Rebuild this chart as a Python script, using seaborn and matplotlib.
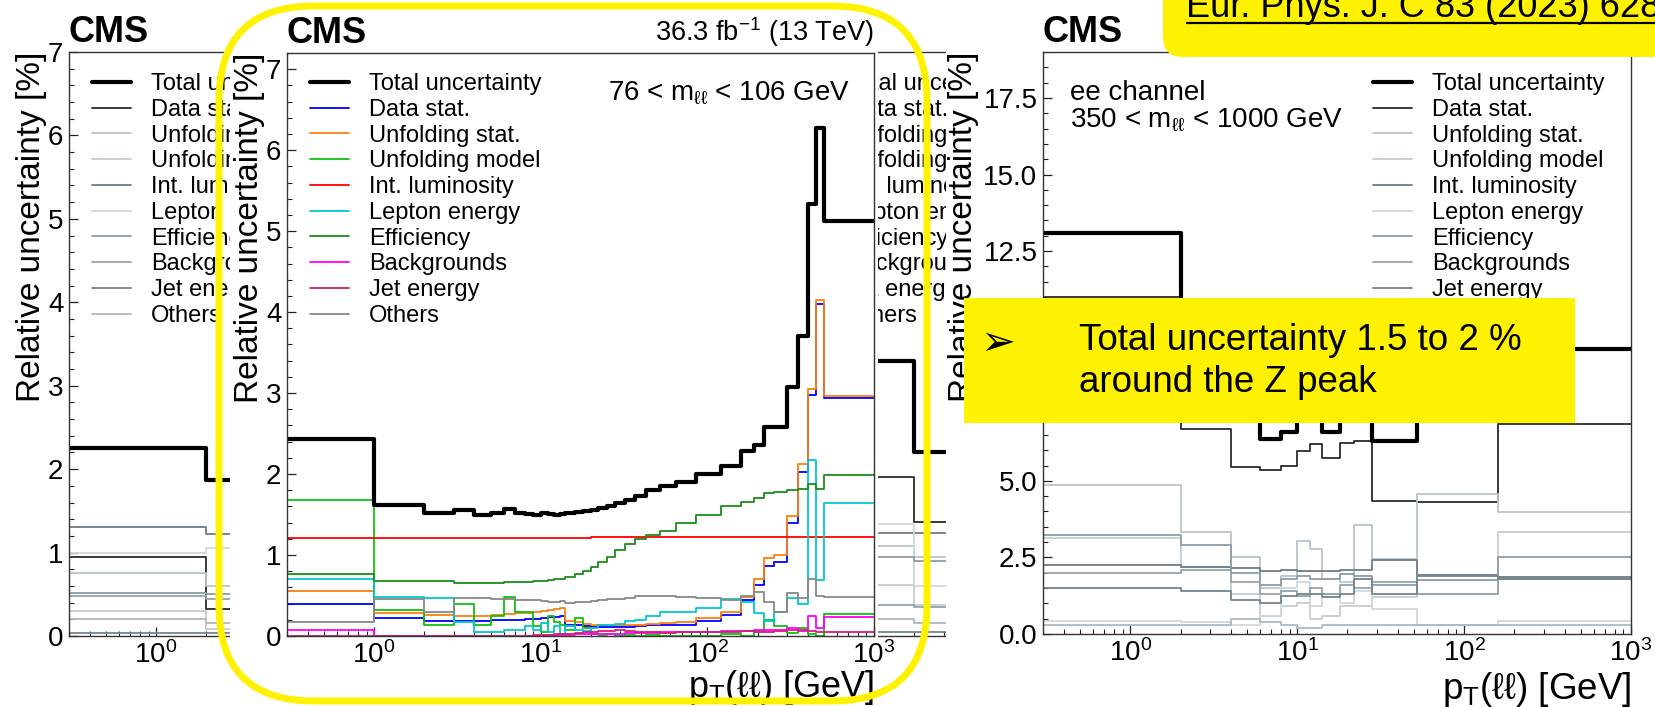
import numpy as np
import matplotlib
matplotlib.use("Agg")
import matplotlib.pyplot as plt
import seaborn as sns
from matplotlib.patches import Rectangle, FancyBboxPatch
from matplotlib.ticker import (LogLocator, MultipleLocator, NullFormatter,
                               LogFormatterMathtext, FormatStrFormatter)

W, H = 1656, 707

# ------------------------------------------------------------------ data
labels = ["Total uncertainty", "Data stat.", "Unfolding stat.", "Unfolding model",
          "Int. luminosity", "Lepton energy", "Efficiency", "Backgrounds",
          "Jet energy", "Others"]

# --- middle panel: 76 < m_ll < 106 GeV
mid_edges = [0.3, 1, 2, 3, 4, 5, 6, 7, 8, 9, 10, 11, 12, 13, 14, 16, 18, 20, 22, 25, 28,
             32, 37, 43, 52, 65, 85, 120, 160, 190, 220, 250, 300, 350, 400, 450, 500, 1000]
mid_total = [2.43, 1.62, 1.52, 1.55, 1.50, 1.52, 1.57, 1.52, 1.51, 1.50, 1.52, 1.51, 1.50, 1.51,
             1.52, 1.53, 1.54, 1.56, 1.58, 1.61, 1.64, 1.68, 1.73, 1.80, 1.85, 1.90, 2.00,
             2.10, 2.28, 2.36, 2.58, 2.58, 3.08, 3.70, 5.33, 6.27, 5.12]
mid_datastat = [0.39, 0.22, 0.19, 0.19, 0.19, 0.20, 0.20, 0.20, 0.21, 0.21, 0.22, 0.23, 0.24, 0.25,
                0.14, 0.13, 0.12, 0.11, 0.11, 0.11, 0.11, 0.11, 0.12, 0.13, 0.13, 0.14, 0.18,
                0.26, 0.44, 0.63, 0.87, 0.92, 1.40, 2.03, 2.98, 4.10, 2.94]
mid_unfstat = [0.55, 0.29, 0.26, 0.25, 0.25, 0.26, 0.27, 0.28, 0.29, 0.30, 0.31, 0.32, 0.33, 0.35,
               0.18, 0.17, 0.15, 0.14, 0.13, 0.13, 0.13, 0.13, 0.14, 0.15, 0.16, 0.17, 0.22,
               0.30, 0.48, 0.71, 0.96, 1.00, 1.48, 2.12, 3.05, 4.15, 2.97]
mid_unfmodel = [1.68, 0.32, 0.14, 0.39, 0.14, 0.25, 0.48, 0.30, 0.30, 0.12, 0.05, 0.25, 0.17, 0.13,
                0.08, 0.22, 0.10, 0.03, 0.01, 0.02, 0.00, 0.01, 0.00, 0.01, 0.00, 0.00, 0.00,
                0.02, 0.00, 0.06, 0.20, 0.12, 0.04, 0.10, 0.02, 0.00, 0.27]
mid_lumi = [1.21, 1.21, 1.21, 1.21, 1.21, 1.21, 1.21, 1.21, 1.21, 1.21, 1.21, 1.21, 1.21, 1.21,
            1.21, 1.21, 1.21, 1.22, 1.22, 1.22, 1.22, 1.22, 1.22, 1.22, 1.22, 1.22, 1.22,
            1.22, 1.22, 1.22, 1.22, 1.22, 1.22, 1.22, 1.22, 1.22, 1.22]
mid_lepton = [0.70, 0.48, 0.47, 0.17, 0.05, 0.05, 0.07, 0.07, 0.12, 0.08, 0.16, 0.05, 0.12, 0.03,
              0.12, 0.08, 0.06, 0.10, 0.13, 0.14, 0.15, 0.18, 0.20, 0.25, 0.30, 0.30, 0.34,
              0.46, 0.42, 0.28, 0.18, 0.30, 0.47, 0.40, 2.17, 0.69, 1.64]
mid_eff = [0.76, 0.68, 0.68, 0.66, 0.66, 0.66, 0.67, 0.67, 0.67, 0.68, 0.68, 0.69, 0.70, 0.71,
           0.73, 0.76, 0.80, 0.85, 0.91, 0.98, 1.06, 1.14, 1.20, 1.25, 1.30, 1.40, 1.50,
           1.60, 1.66, 1.71, 1.76, 1.78, 1.80, 1.82, 1.88, 1.82, 1.99]
mid_bkg = [0.08, 0.00, 0.00, 0.00, 0.00, 0.00, 0.00, 0.00, 0.00, 0.00, 0.01, 0.01, 0.01, 0.01,
           0.01, 0.02, 0.02, 0.02, 0.03, 0.03, 0.03, 0.04, 0.04, 0.04, 0.05, 0.05, 0.05,
           0.06, 0.06, 0.07, 0.08, 0.08, 0.10, 0.06, 0.25, 0.10, 0.24]
mid_jet = [0.00, 0.00, 0.00, 0.00, 0.00, 0.00, 0.00, 0.00, 0.00, 0.01, 0.01, 0.01, 0.02, 0.02,
           0.03, 0.04, 0.05, 0.05, 0.06, 0.06, 0.07, 0.06, 0.05, 0.05, 0.04, 0.05, 0.05,
           0.05, 0.06, 0.05, 0.05, 0.06, 0.07, 0.08, 0.06, 0.05, 0.05]
mid_others = [0.17, 0.46, 0.30, 0.47, 0.47, 0.46, 0.46, 0.45, 0.45, 0.44, 0.43, 0.42, 0.42, 0.43,
              0.41, 0.42, 0.42, 0.43, 0.45, 0.46, 0.46, 0.47, 0.50, 0.49, 0.49, 0.48, 0.47,
              0.45, 0.50, 0.54, 0.42, 0.30, 0.53, 0.47, 0.70, 0.49, 0.48]

# --- left panel (mostly hidden behind the middle one)
left_edges = [0.3, 2, 4]
left_total = [2.25, 1.87]
left_datastat = [0.95, 0.32]
left_unfstat = [0.75, 0.60]
left_unfmodel = [0.30, 0.08]
left_lumi = [1.31, 1.22]
left_lepton = [1.00, 1.05]
left_eff = [0.51, 0.50]
left_bkg = [0.48, 0.44]
left_jet = [0.03, 0.03]
left_others = [0.20, 0.15]

# --- panel hidden between the middle and right ones
hid_edges = [0.3, 2, 4]
hid_total = [3.30, 2.20]
hid_datastat = [1.90, 1.37]
hid_unfstat = [1.08, 0.95]
hid_unfmodel = [0.61, 0.37]
hid_lumi = [1.23, 1.23]
hid_lepton = [1.34, 0.60]
hid_eff = [0.95, 0.90]
hid_bkg = [0.37, 0.35]
hid_jet = [0.05, 0.05]
hid_others = [0.20, 0.15]

# --- right panel: ee channel, 350 < m_ll < 1000 GeV
r_edges = [0.3, 2, 4, 6, 8, 10, 12, 14, 18, 22, 28, 52, 160, 1000]
r_total = [13.1, 8.5, 7.6, 6.35, 6.6, 7.2, 7.4, 6.6, 7.1, 7.4, 6.3, 7.6, 9.3]
r_datastat = [11.0, 6.7, 5.44, 5.34, 5.5, 5.96, 6.2, 5.74, 6.25, 6.3, 4.34, 4.3, 6.84]
r_unfstat = [4.88, 3.34, 2.5, 1.5, 1.9, 3.04, 2.76, 1.8, 1.7, 3.56, 2.45, 4.56, 3.97]
r_unfmodel = [3.13, 2.2, 1.3, 0.6, 0.9, 1.0, 0.5, 0.6, 0.9, 0.9, 1.2, 1.3, 3.34]
r_lumi = [2.25, 2.2, 2.15, 2.05, 2.1, 2.05, 2.05, 2.05, 2.1, 2.1, 2.4, 1.91, 1.87]
r_lepton = [0.44, 0.4, 0.3, 0.6, 1.5, 1.7, 0.9, 1.3, 1.0, 1.4, 0.8, 0.3, 0.44]
r_eff = [3.24, 2.9, 2.0, 1.6, 1.8, 1.9, 1.8, 1.8, 1.95, 1.9, 1.6, 1.76, 2.5]
r_bkg = [1.99, 2.1, 1.7, 1.3, 1.4, 1.25, 1.5, 1.3, 1.6, 1.5, 1.7, 1.32, 1.8]
r_jet = [1.51, 1.4, 1.1, 1.0, 1.25, 1.3, 1.3, 1.2, 1.3, 1.8, 1.3, 1.9, 1.8]
r_others = [0.29, 0.3, 0.5, 0.4, 0.3, 0.2, 0.2, 0.3, 0.3, 0.3, 0.3, 0.3, 0.3]

# ------------------------------------------------------------------ style
sns.set_theme(style="ticks")
plt.rcParams['font.family'] = ['Liberation Sans', 'DejaVu Sans']
plt.rcParams['mathtext.fontset'] = 'custom'
plt.rcParams['mathtext.rm'] = 'Liberation Sans'
plt.rcParams['mathtext.it'] = 'Liberation Sans:italic'
plt.rcParams['mathtext.bf'] = 'Liberation Sans:bold'
plt.rcParams['mathtext.default'] = 'regular'
for k in ['text.color', 'axes.labelcolor', 'xtick.color', 'ytick.color']:
    plt.rcParams[k] = 'black'

YEL = '#fff200'

mid_colors = ['#000000', '#0000ff', '#ff7f0e', '#10c010', '#ff0000', '#00c8d0',
              '#1a8c1a', '#ff00ff', '#d62070', '#888888']
gray_colors = ['#000000', '#2b2b2b', '#b7c4cb', '#c2cdd3', '#6d7c87', '#cfd8dd',
               '#8d9ca6', '#93a2ac', '#74838e', '#aab9c2']

fig = plt.figure(figsize=(W / 100, H / 100), dpi=100)
fig.patch.set_facecolor('white')


def rect_px(l, r, t, b):
    return [l / W, 1 - b / H, (r - l) / W, (b - t) / H]


def make_panel(px, z, edges, series, colors, ylim, ymaj, ymin, yfmt,
               ylab_off, leg_x, xlab_top, xlab_size, show_xticklabels=True):
    l, r, t, b = px
    ax = fig.add_axes(rect_px(l, r, t, b), zorder=z)
    ax.set_facecolor('white')
    ax.set_xscale('log')
    order = list(range(1, len(labels))) + [0]
    for i in order:
        v = series[i]
        sns.lineplot(x=edges, y=list(v) + [v[-1]], ax=ax, drawstyle='steps-post',
                     color=colors[i], linewidth=3.0 if i == 0 else 1.3,
                     label=labels[i], estimator=None, sort=False, legend=False)
    ax.set_xlim(0.3, 1000)
    ax.set_ylim(*ylim)
    ax.xaxis.set_major_locator(LogLocator(base=10, numticks=10))
    ax.xaxis.set_minor_locator(LogLocator(base=10, subs=np.arange(2, 10), numticks=20))
    ax.xaxis.set_minor_formatter(NullFormatter())
    if show_xticklabels:
        ax.xaxis.set_major_formatter(LogFormatterMathtext())
    else:
        ax.xaxis.set_major_formatter(NullFormatter())
    ax.yaxis.set_major_locator(MultipleLocator(ymaj))
    ax.yaxis.set_minor_locator(MultipleLocator(ymin))
    ax.yaxis.set_major_formatter(FormatStrFormatter(yfmt))
    ax.tick_params(which='major', direction='in', length=6.5, width=0.9, labelsize=20,
                   color='#222222')
    ax.tick_params(which='minor', direction='in', length=3.6, width=0.8, color='#222222')
    ax.tick_params(axis='y', pad=4)
    ax.tick_params(axis='x', pad=4)
    for s in ax.spines.values():
        s.set_color('#333333')
        s.set_linewidth(1.0)
    ax.set_ylabel("Relative uncertainty [%]", fontsize=24, loc='top')
    ax.yaxis.set_label_coords(ylab_off / (r - l), 1.0)
    ax.set_xlabel(r"p$_{\mathregular{T}}$(ℓℓ) [GeV]", fontsize=xlab_size, loc='right')
    ax.xaxis.set_label_coords(1.0, -(xlab_top - b) / (b - t))
    ax.text(0, 1 + 10 / (b - t), "CMS", transform=ax.transAxes, fontsize=26,
            fontweight='bold', ha='left', va='baseline')
    hl, ll = ax.get_legend_handles_labels()
    hmap = dict(zip(ll, hl))
    ax.legend([hmap[k] for k in labels], labels, loc='upper left',
              bbox_to_anchor=((leg_x - l) / (r - l), 1 - (73 - t) / (b - t)),
              frameon=False, fontsize=17, handlelength=1.65, handletextpad=0.85,
              labelspacing=0.16, borderpad=0, borderaxespad=0)
    return ax


# left panel (bottom layer)
left_px = (69, 656, 52, 636)
make_panel(left_px, 1, left_edges,
           [left_total, left_datastat, left_unfstat, left_unfmodel, left_lumi,
            left_lepton, left_eff, left_bkg, left_jet, left_others],
           gray_colors, (0, 7), 1, 0.2, '%d', -22, 92, 668, 26)

# hidden panel between middle and right
hid_px = (777, 1364, 52, 636)
make_panel(hid_px, 1.5, hid_edges,
           [hid_total, hid_datastat, hid_unfstat, hid_unfmodel, hid_lumi,
            hid_lepton, hid_eff, hid_bkg, hid_jet, hid_others],
           gray_colors, (0, 7), 1, 0.2, '%d', -22, 788, 668, 26, show_xticklabels=False)

# white background of the middle picture
fig.add_artist(Rectangle((230 / W, 0), (878 - 230) / W, 1, transform=fig.transFigure,
                         facecolor='white', edgecolor='none', zorder=2))

# middle panel
mid_px = (287, 874, 53, 636)
axm = make_panel(mid_px, 3, mid_edges,
                 [mid_total, mid_datastat, mid_unfstat, mid_unfmodel, mid_lumi,
                  mid_lepton, mid_eff, mid_bkg, mid_jet, mid_others],
                 mid_colors, (0, 7.2), 1, 0.2, '%d', -22, 310, 668, 26)
hm = 636 - 53
axm.text(1.0, 1 + (53 - 41) / hm, "36.3 fb$^{-1}$ (13 TeV)", transform=axm.transAxes,
         fontsize=19.5, ha='right', va='baseline')
axm.text((608 - 287) / 587, 1 - (93 - 53) / hm, "76 < m$_{ℓℓ}$ < 106 GeV",
         transform=axm.transAxes, fontsize=20, ha='left', va='center')

# white background of the right picture
fig.add_artist(Rectangle((946 / W, 0), (W - 946) / W, 1, transform=fig.transFigure,
                         facecolor='white', edgecolor='none', zorder=4))

# right panel
r_px = (1043, 1631, 52, 634)
axr = make_panel(r_px, 5, r_edges,
                 [r_total, r_datastat, r_unfstat, r_unfmodel, r_lumi,
                  r_lepton, r_eff, r_bkg, r_jet, r_others],
                 gray_colors, (0, 19), 2.5, 0.5, '%.1f', -64, 1373, 670, 26.5)
hr = 634 - 52
axr.text((1070 - 1043) / 588, 1 - (93 - 52) / hr, "ee channel", transform=axr.transAxes,
         fontsize=20, ha='left', va='center')
axr.text((1070 - 1043) / 588, 1 - (120 - 52) / hr, "350 < m$_{ℓℓ}$ < 1000 GeV",
         transform=axr.transAxes, fontsize=20, ha='left', va='center')

# ------------------------------------------------------------------ slide overlays
ov = fig.add_axes([0, 0, 1, 1], zorder=20)
ov.set_xlim(0, W)
ov.set_ylim(H, 0)
ov.axis('off')

ov.add_patch(FancyBboxPatch((219, 6), 708, 695, boxstyle="round,pad=0,rounding_size=95",
                            fill=False, edgecolor=YEL, linewidth=5))
ov.add_patch(FancyBboxPatch((1163, -60), 620, 117, boxstyle="round,pad=0,rounding_size=20",
                            facecolor=YEL, edgecolor='none'))
ref = ov.text(1186, 17, "Eur. Phys. J. C 83 (2023) 628", fontsize=26, ha='left',
              va='baseline', color='black')
ov.add_patch(Rectangle((964, 298), 611, 125, facecolor=YEL, edgecolor='none'))
ov.text(980, 343, "➢", fontsize=30, family=['DejaVu Sans'], ha='left', va='center')
ov.text(1079, 341, "Total uncertainty 1.5 to 2 %", fontsize=26.5, ha='left', va='center')
ov.text(1079, 383, "around the Z peak", fontsize=26.5, ha='left', va='center')

# underline of the reference
fig.canvas.draw()
bb = ref.get_window_extent()
inv = ov.transData.inverted()
(x0, _), (x1, _) = inv.transform([(bb.x0, bb.y0), (bb.x1, bb.y0)])
ov.plot([x0, x1], [23, 23], color='black', linewidth=1.6, solid_capstyle='butt')

fig.savefig("out.png", dpi=100, facecolor='white')
